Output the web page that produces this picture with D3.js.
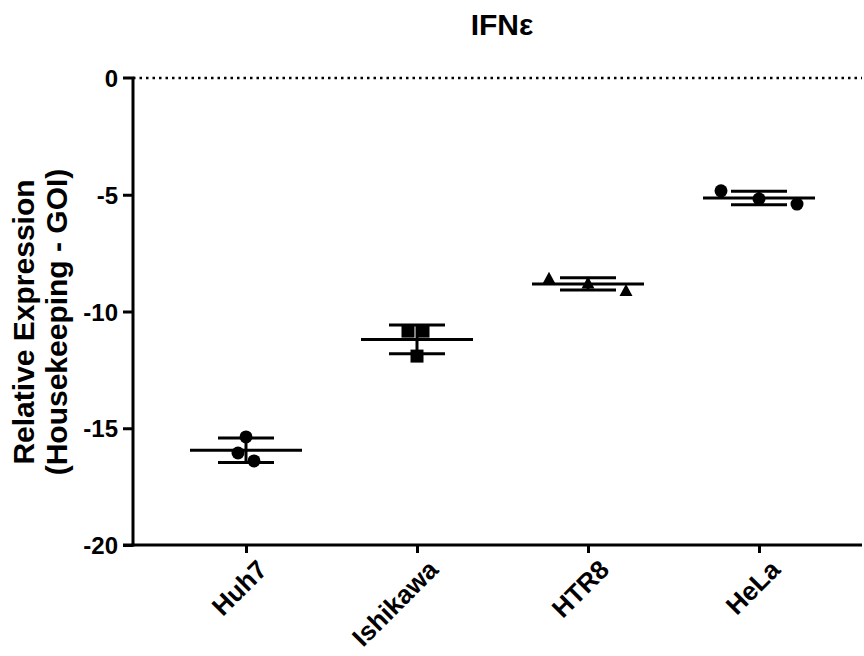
<!DOCTYPE html>
<html>
<head>
<meta charset="utf-8">
<script src="https://cdn.jsdelivr.net/npm/d3@7"></script>
<style>
  html, body { margin: 0; padding: 0; background: #fff; }
  svg text { font-family: "Liberation Sans", Arial, Helvetica, sans-serif; font-weight: bold; fill: #000; }
</style>
</head>
<body>
<svg id="chart" width="864" height="656"></svg>
<script>
// Cell lines and replicate measurements (Housekeeping - GOI)
const cellLines = ["Huh7", "Ishikawa", "HTR8", "HeLa"];
const huh7Values = [-15.37, -16.06, -16.40];
const ishikawaValues = [-10.84, -10.84, -11.91];
const htr8Values = [-8.58, -8.78, -9.10];
const helaValues = [-4.83, -5.18, -5.40];
const yTickValues = [0, -5, -10, -15, -20];

// Horizontal spread of replicate symbols (pixels)
const jitter = [[0, -8, 8], [-9, 6, 0], [-39, 0, 38], [-38, 0, 38]];
const symbolShapes = ["circle", "square", "triangle", "circle"];

const replicateSets = [huh7Values, ishikawaValues, htr8Values, helaValues];

const svg = d3.select("#chart");
const plotLeft = 133, plotRight = 862, plotTop = 78, plotBottom = 545;

const y = d3.scaleLinear().domain([0, -20]).range([plotTop, plotBottom]);
const x = d3.scalePoint().domain(cellLines).range([246, 759]);

// Title
svg.append("text")
  .attr("x", 502).attr("y", 35)
  .attr("text-anchor", "middle")
  .style("font-size", "30px")
  .text("IFNε");

// Dotted reference line at zero
svg.append("line")
  .attr("x1", plotLeft).attr("x2", plotRight)
  .attr("y1", y(0)).attr("y2", y(0))
  .attr("stroke", "#000").attr("stroke-width", 2.5)
  .attr("stroke-dasharray", "2.5,4");

// Y axis (plain hyphen for negative numbers)
const yAxis = d3.axisLeft(y).tickValues(yTickValues).tickSize(10).tickPadding(5).tickFormat(d => String(d));
const yG = svg.append("g").attr("transform", `translate(${plotLeft},0)`).call(yAxis);
yG.select(".domain").attr("stroke-width", 3).attr("d", `M-10,${y(0)}H0V${y(-20)}H-10`);
yG.selectAll(".tick line").attr("stroke-width", 3);
yG.selectAll(".tick text").style("font-size", "24px").attr("dy", "0.36em");
yG.selectAll(".tick").filter(d => d === 0).select("line").remove();

// X axis
const xAxis = d3.axisBottom(x).tickSize(8).tickFormat(d => d);
const xG = svg.append("g").attr("transform", `translate(0,${plotBottom})`).call(xAxis);
xG.select(".domain").attr("stroke-width", 3).attr("d", `M${plotLeft - 1.5},0H${plotRight}`);
xG.selectAll(".tick line").attr("stroke-width", 3);
xG.selectAll(".tick text")
  .style("font-size", "26px")
  .attr("text-anchor", "end")
  .attr("transform", "translate(9,13) rotate(-45)")
  .attr("y", 0).attr("x", 0).attr("dy", "0.72em");

// Y axis title
const yTitle = svg.append("text")
  .attr("transform", "translate(0,322) rotate(-90)")
  .attr("text-anchor", "middle")
  .style("font-size", "30px");
yTitle.append("tspan").attr("x", 0).attr("y", 34).text("Relative Expression");
yTitle.append("tspan").attr("x", 0).attr("y", 67).text("(Housekeeping - GOI)");

// Mean and SD for each cell line
const stats = replicateSets.map((vals, i) => ({
  name: cellLines[i],
  mean: d3.mean(vals),
  sd: d3.deviation(vals)
}));

const meanHalf = 56, capHalf = 28;
const bars = svg.append("g").attr("stroke", "#000").attr("stroke-width", 3);
stats.forEach(s => {
  const cx = x(s.name);
  bars.append("line").attr("x1", cx).attr("x2", cx)
    .attr("y1", y(s.mean + s.sd)).attr("y2", y(s.mean - s.sd));
  bars.append("line").attr("x1", cx - meanHalf).attr("x2", cx + meanHalf)
    .attr("y1", y(s.mean)).attr("y2", y(s.mean));
  [s.mean + s.sd, s.mean - s.sd].forEach(v => {
    bars.append("line").attr("x1", cx - capHalf).attr("x2", cx + capHalf)
      .attr("y1", y(v)).attr("y2", y(v));
  });
});

// Replicate symbols
const pts = svg.append("g").attr("fill", "#000");
replicateSets.forEach((vals, i) => {
  const cx = x(cellLines[i]);
  vals.forEach((v, j) => {
    const px = cx + jitter[i][j], py = y(v);
    const shape = symbolShapes[i];
    if (shape === "circle") {
      pts.append("circle").attr("cx", px).attr("cy", py).attr("r", 6.5);
    } else if (shape === "square") {
      pts.append("rect").attr("x", px - 6.5).attr("y", py - 6.5).attr("width", 13).attr("height", 13);
    } else {
      pts.append("path").attr("d", `M${px},${py - 6.5}L${px + 6.5},${py + 5.5}L${px - 6.5},${py + 5.5}Z`);
    }
  });
});
</script>
</body>
</html>
